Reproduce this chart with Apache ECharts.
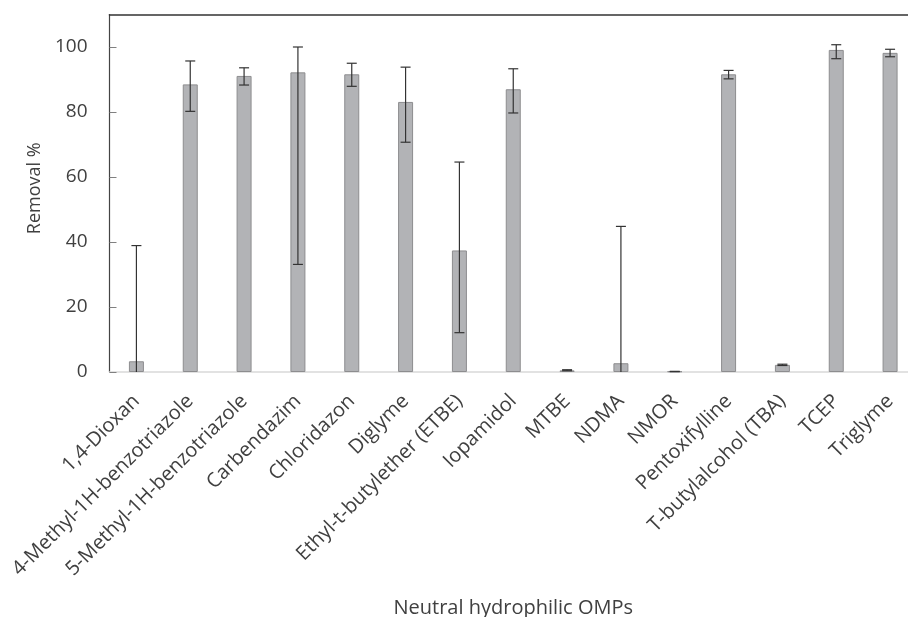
<!DOCTYPE html>
<html>
<head>
<meta charset="utf-8">
<script src="https://cdn.jsdelivr.net/npm/echarts@6/dist/echarts.min.js"></script>
<style>html,body{margin:0;padding:0;background:#fff}#c{width:908px;height:617px}</style>
</head>
<body>
<div id="c"></div>
<script>
const categories = ['1,4-Dioxan','4-Methyl-1H-benzotriazole','5-Methyl-1H-benzotriazole','Carbendazim','Chloridazon','Diglyme','Ethyl-t-butylether (ETBE)','Iopamidol','MTBE','NDMA','NMOR','Pentoxifylline','T-butylalcohol (TBA)','TCEP','Triglyme'];
const removal = [3.3, 88.5, 91.1, 92.2, 91.6, 83.1, 37.4, 87.0, 0.5, 2.7, 0.2, 91.6, 2.2, 99.1, 98.2];
const errLow  = [0, 80.2, 88.3, 33.1, 87.9, 70.7, 12.1, 79.7, 0.4, 0, 0.1, 90.2, 2.0, 96.4, 97.0];
const errHigh = [38.9, 95.7, 93.6, 100.0, 95.0, 93.8, 64.6, 93.3, 0.7, 44.8, 0.2, 92.8, 2.4, 100.7, 99.3];
const yTicks = [0, 20, 40, 60, 80, 100];

const chart = echarts.init(document.getElementById('c'), null, {renderer: 'canvas'});
const errData = categories.map((c, i) => [i, errLow[i], errHigh[i]]);
const font = '"Open Sans", "Liberation Sans", sans-serif';

chart.setOption({
  animation: false,
  backgroundColor: '#fff',
  grid: {left: 109.5, top: 14.5, width: 807.5, height: 357.5, containLabel: false, outerBoundsMode: 'none'},
  xAxis: [{
    type: 'category', data: categories, position: 'bottom',
    name: 'Neutral hydrophilic OMPs', nameLocation: 'middle', nameGap: 226,
    nameTextStyle: {color: '#404040', fontSize: 20, fontFamily: font, verticalAlign: 'top'},
    axisLine: {lineStyle: {color: '#d9d9d9', width: 1.5}},
    axisTick: {show: false},
    axisLabel: {rotate: 45, interval: 0, margin: 26, color: '#404040', fontSize: 20, fontFamily: font}
  }, {
    type: 'category', data: categories, position: 'top',
    axisLine: {lineStyle: {color: '#333', width: 1.5}},
    axisTick: {show: false}, axisLabel: {show: false}
  }],
  yAxis: {
    type: 'value', min: 0, max: 110, interval: 20,
    name: 'Removal %', nameLocation: 'middle', nameGap: 64,
    nameTextStyle: {color: '#404040', fontSize: 18, fontFamily: font, padding: [0, 0, 0, 10]},
    axisLine: {show: true, lineStyle: {color: '#444', width: 1.2}},
    axisTick: {show: true, inside: true, length: 7, lineStyle: {color: '#808080'}},
    axisLabel: {color: '#404040', fontSize: 19, fontFamily: font, margin: 22, showMaxLabel: false,
      formatter: v => yTicks.indexOf(v) >= 0 ? String(v) : ''},
    splitLine: {show: false}
  },
  series: [{
    type: 'bar', data: removal, barWidth: 15,
    itemStyle: {color: '#b2b3b6', borderColor: '#8d8d8f', borderWidth: 1}
  }, {
    type: 'custom', data: errData, z: 5,
    renderItem: function (params, api) {
      const x = api.value(0);
      const lo = api.coord([x, api.value(1)]);
      const hi = api.coord([x, api.value(2)]);
      const hw = 5;
      const st = {stroke: '#333', lineWidth: 1.2};
      return {type: 'group', children: [
        {type: 'line', shape: {x1: lo[0], y1: lo[1], x2: hi[0], y2: hi[1]}, style: st},
        {type: 'line', shape: {x1: hi[0]-hw, y1: hi[1], x2: hi[0]+hw, y2: hi[1]}, style: st},
        {type: 'line', shape: {x1: lo[0]-hw, y1: lo[1], x2: lo[0]+hw, y2: lo[1]}, style: st, invisible: api.value(1) <= 0}
      ]};
    }
  }]
});
</script>
</body>
</html>
